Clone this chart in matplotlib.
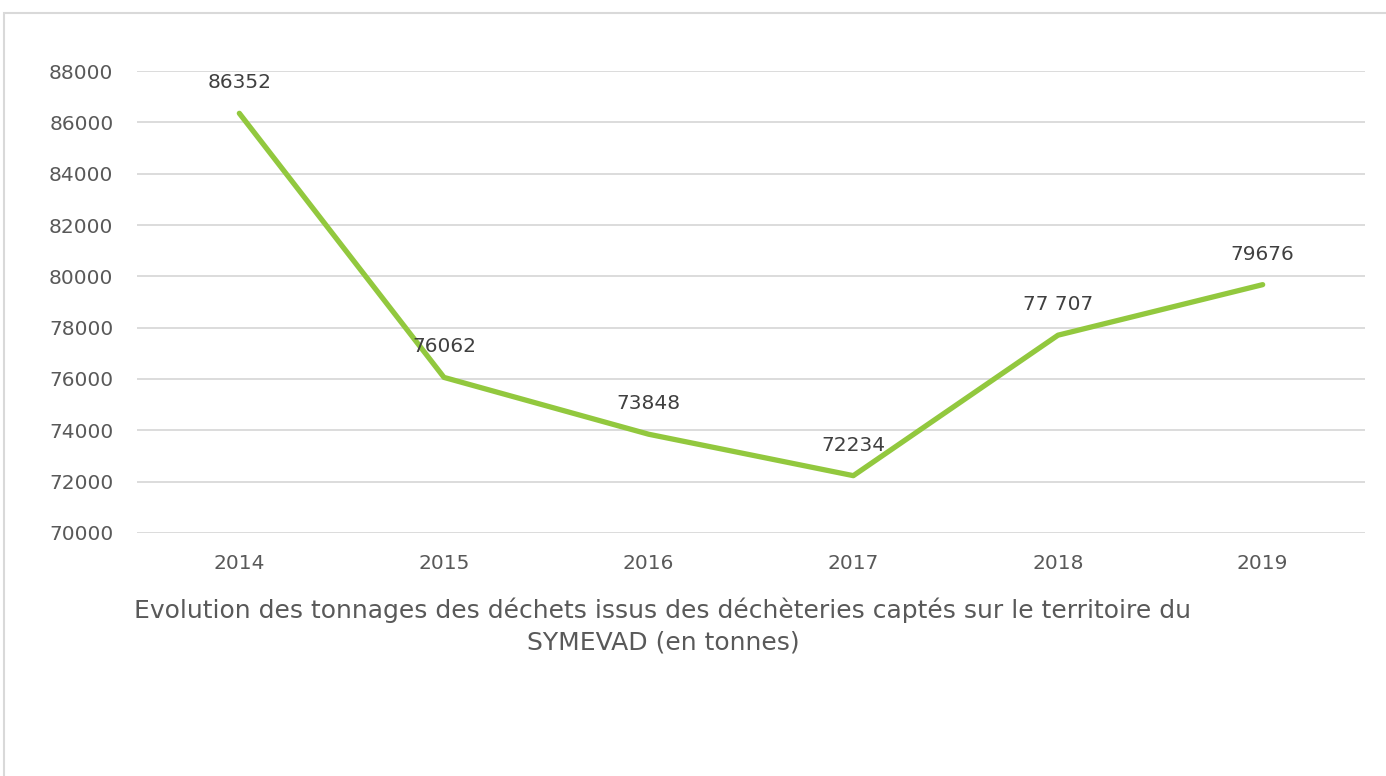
import matplotlib
matplotlib.use("Agg")
import matplotlib.pyplot as plt
from matplotlib.patches import Rectangle

# tonnages per year
years = ['2014', '2015', '2016', '2017', '2018', '2019']
tonnes = [86352, 76062, 73848, 72234, 77707, 79676]
labels = ['86352', '76062', '73848', '72234', '77 707', '79676']

title = ("Evolution des tonnages des déchets issus des déchèteries captés sur le territoire du\n"
         "SYMEVAD (en tonnes)")

plt.rcParams['font.family'] = ['DejaVu Sans']
grey = '#595959'

fig = plt.figure(figsize=(13.86, 7.76), dpi=100)
ax = fig.add_axes([137/1386, 1-533/776, (1365-137)/1386, (533-71)/776])

x = list(range(len(years)))
ax.plot(x, tonnes, color='#92C83E', linewidth=3.8, solid_capstyle='round',
        solid_joinstyle='round', zorder=3)
for i in x:
    ax.annotate(labels[i], (x[i], tonnes[i]), xytext=(0, 22), textcoords='offset points',
                ha='center', va='center', fontsize=14.5, color='#404040')

ax.set_xlim(-0.5, len(years) - 0.5)
ax.set_ylim(70000, 88000)
ax.set_yticks(range(70000, 88001, 2000))
ax.set_xticks(x)
ax.set_xticklabels(years)
ax.tick_params(length=0, labelsize=14.5, colors=grey, pad=15)
ax.tick_params(axis='y', pad=17)
ax.grid(axis='y', color='#D9D9D9', linewidth=1.3)
ax.set_axisbelow(True)
for s in ax.spines.values():
    s.set_visible(False)

fig.text(663/1386, 1-626/776, title, ha='center', va='center', fontsize=18,
         color=grey, linespacing=1.35)

# outer frame, cut off at right and bottom
fig.patches.append(Rectangle((4/1386, -0.1), 1.2, 1-13/776+0.1, transform=fig.transFigure,
                             fill=False, edgecolor='#D9D9D9', linewidth=1.5))

fig.savefig('out.png', dpi=100)
